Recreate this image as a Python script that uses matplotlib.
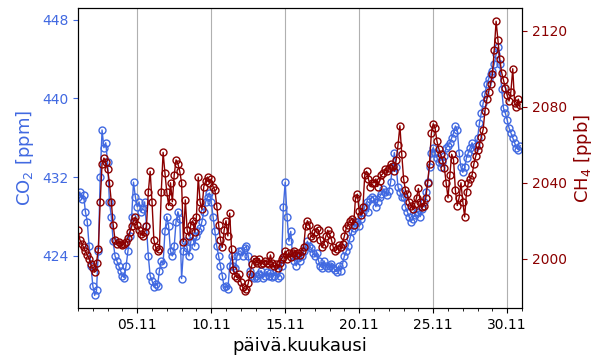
import numpy as np
import pandas as pd
import matplotlib
matplotlib.use("Agg")
import matplotlib.pyplot as plt
import matplotlib.dates as mdates

# 3 tunnin välein luetut arvot, 1.11.-30.11.
aika = pd.date_range("2023-11-01 00:00", periods=240, freq="3h")

co2 = [
    430.0, 430.5, 429.8, 430.2, 428.5, 427.5, 425.0, 423.0,
    421.0, 420.0, 420.5, 424.5, 432.0, 436.8, 435.0, 435.5,
    433.5, 429.5, 428.0, 425.5, 424.0, 423.5, 423.0, 422.5,
    422.0, 421.8, 423.0, 424.5, 426.0, 428.0, 431.5, 430.0,
    429.0, 429.5, 428.5, 428.8, 429.5, 427.0, 424.0, 422.0,
    421.5, 420.9, 421.2, 421.0, 422.5, 423.5, 423.2, 426.5,
    428.0, 427.0, 424.5, 424.0, 425.0, 427.5, 428.5, 427.8,
    421.7, 424.5, 425.5, 424.8, 424.0, 425.5, 426.0, 425.0,
    426.0, 426.5, 426.8, 427.5, 428.5, 429.5, 430.0, 430.4,
    429.5, 428.0, 426.5, 425.0, 424.0, 423.0, 422.0, 420.8,
    421.0, 420.6, 423.0, 424.0, 423.0, 422.8, 424.0, 424.5,
    424.5, 424.0, 424.8, 425.0, 424.0, 422.5, 422.0, 421.8,
    422.0, 421.8, 422.2, 422.5, 421.8, 422.0, 422.4, 422.0,
    422.3, 421.9, 422.0, 422.5, 421.8, 422.0, 423.0, 429.0,
    431.5, 428.0, 425.5, 426.5, 424.0, 423.5, 423.0, 423.8,
    423.5, 424.0, 424.5, 425.0, 425.5, 425.0, 424.8, 424.3,
    424.0, 424.3, 423.5, 423.0, 422.8, 423.5, 423.0, 422.8,
    423.0, 423.2, 422.8, 422.6, 422.4, 423.0, 422.5, 423.2,
    424.0, 424.5, 425.0, 425.8, 426.5, 426.8, 427.5, 427.5,
    427.0, 427.8, 428.5, 429.0, 429.5, 428.5, 429.8, 430.0,
    429.8, 429.0, 429.5, 430.0, 430.3, 430.8, 430.5, 430.2,
    430.6, 431.5, 433.0, 434.5, 433.0, 431.0, 430.5, 430.0,
    430.0, 429.0, 428.5, 428.0, 427.5, 427.8, 428.2, 428.5,
    428.5, 428.0, 428.8, 429.5, 430.5, 431.5, 433.0, 434.5,
    435.0, 434.5, 434.0, 433.5, 433.0, 433.5, 434.2, 435.0,
    435.2, 435.5, 436.0, 436.5, 437.2, 436.8, 434.5, 433.0,
    432.5, 433.0, 434.0, 434.5, 435.0, 435.5, 434.8, 435.2,
    436.0, 437.5, 438.5, 439.5, 440.5, 441.5, 442.0, 442.5,
    442.8, 443.5, 444.5, 445.2, 443.5, 441.0, 439.0, 438.5,
    437.8, 437.0, 436.5, 436.0, 435.5, 435.0, 434.8, 435.2,
]

ch4 = [
    2015, 2010, 2008, 2006, 2004, 2002, 2000, 1997,
    1995, 1993, 1998, 2005, 2030, 2050, 2053, 2051,
    2047, 2040, 2030, 2018, 2010, 2008, 2009, 2008,
    2007, 2008, 2009, 2011, 2014, 2017, 2020, 2022,
    2018, 2015, 2013, 2012, 2014, 2017, 2035, 2046,
    2030, 2010, 2006, 2004, 2005, 2035, 2056, 2045,
    2035, 2028, 2040, 2030, 2044, 2052, 2050, 2046,
    2040, 2009, 2031, 2015, 2012, 2018, 2020, 2014,
    2022, 2043, 2030, 2026, 2038, 2041, 2043, 2040,
    2042, 2038, 2036, 2028, 2018, 2010, 2006, 2015,
    2020, 2012, 2024, 2005, 1994, 1991, 1990, 1992,
    1988, 1985, 1983, 1984, 1987, 1992, 1997, 2000,
    1999, 1998, 2000, 1997, 1998, 1999, 1998, 1997,
    2002, 1998, 1996, 1997, 1995, 1998, 2000, 2001,
    2004, 2000, 2003, 2001, 2003, 2004, 2002, 2003,
    2002, 2004, 2006, 2017, 2020, 2018, 2012, 2011,
    2014, 2016, 2015, 2010, 2006, 2008, 2012, 2015,
    2013, 2010, 2006, 2004, 2005, 2007, 2006, 2008,
    2012, 2016, 2018, 2020, 2021, 2018, 2032, 2034,
    2025, 2023, 2027, 2044, 2046, 2042, 2038, 2040,
    2040, 2042, 2038, 2041, 2044, 2045, 2047, 2046,
    2048, 2050, 2049, 2046, 2052, 2060, 2070, 2055,
    2042, 2036, 2034, 2030, 2028, 2026, 2029, 2032,
    2037, 2030, 2027, 2028, 2032, 2040, 2050, 2066,
    2071, 2069, 2062, 2058, 2055, 2052, 2048, 2040,
    2032, 2044, 2055, 2052, 2036, 2028, 2032, 2040,
    2030, 2022, 2035, 2040, 2042, 2044, 2050, 2054,
    2057, 2060, 2064, 2068, 2078, 2084, 2088, 2092,
    2097, 2110, 2125, 2115, 2105, 2098, 2094, 2090,
    2086, 2083, 2088, 2100, 2082, 2080, 2084, 2081,
]

vari_co2 = "royalblue"
vari_ch4 = "darkred"

fig, ax1 = plt.subplots(figsize=(6, 3.6), dpi=100)
fig.subplots_adjust(left=0.13, right=0.87, top=0.978, bottom=0.144)

ax1.plot(aika, co2, color=vari_co2, marker="o", fillstyle="none",
         markersize=5, markeredgewidth=1, linewidth=1)
ax1.set_ylabel("CO$_2$ [ppm]", color=vari_co2, fontsize=13)
ax1.tick_params(axis="y", colors=vari_co2, labelsize=10)
ax1.set_yticks([424, 432, 440, 448])
ax1.set_ylim(418.7, 449.2)

ax2 = ax1.twinx()
ax2.plot(aika, ch4, color=vari_ch4, marker="o", fillstyle="none",
         markersize=5, markeredgewidth=1, linewidth=1)
ax2.set_ylabel("CH$_4$ [ppb]", color=vari_ch4, fontsize=13)
ax2.tick_params(axis="y", colors=vari_ch4, labelsize=10)
ax2.set_yticks([2000, 2040, 2080, 2120])
ax2.set_ylim(1974, 2132)

ax1.set_xlim(pd.Timestamp("2023-11-01"), pd.Timestamp("2023-12-01"))
ax1.xaxis.set_major_locator(mdates.DayLocator(bymonthday=[5, 10, 15, 20, 25, 30]))
ax1.xaxis.set_minor_locator(mdates.DayLocator())
ax1.xaxis.set_major_formatter(mdates.DateFormatter("%d.%m"))
ax1.tick_params(axis="x", labelsize=10)
ax1.grid(axis="x", color="#b0b0b0", linewidth=0.8)
ax1.set_xlabel("päivä.kuukausi", fontsize=13)

plt.savefig("out.png")
